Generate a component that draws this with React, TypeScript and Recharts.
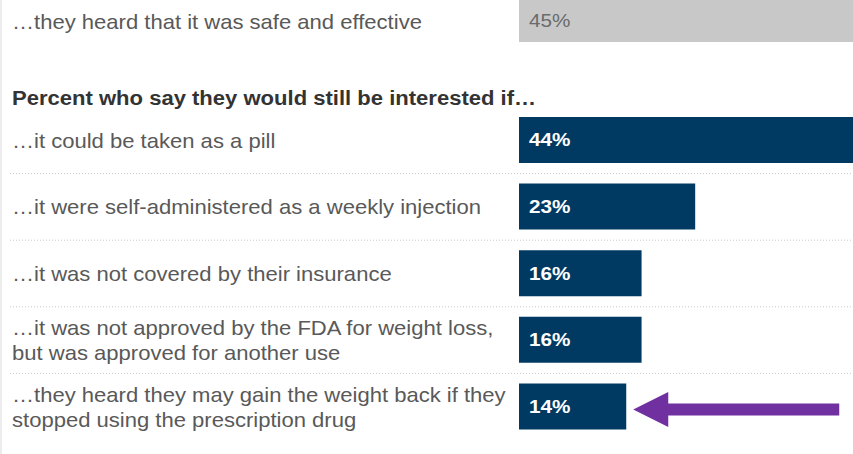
import { BarChart, Bar, XAxis, YAxis, LabelList } from 'recharts';

// top row (grey reference bar)
const refLabels = ['…they heard that it was safe and effective'];
const refValues = [45];

// "still interested if…" rows
const labels = [
  '…it could be taken as a pill',
  '…it were self-administered as a weekly injection',
  '…it was not covered by their insurance',
  '…it was not approved by the FDA for weight loss,\nbut was approved for another use',
  '…they heard they may gain the weight back if they\nstopped using the prescription drug',
];
const values = [44, 23, 16, 16, 14];
const highlightIndex = 4;

const HEADER = 'Percent who say they would still be interested if…';

const FONT = "'Liberation Sans', Arial, Helvetica, sans-serif";
const NAVY = '#003a63';
const GREY_BAR = '#c8c8c8';
const W = 853;
const AXIS_W = 519;
const DOMAIN: [number, number] = [0, 43.6];

const refData = refLabels.map((name, i) => ({ name, value: refValues[i] }));
const data = labels.map((name, i) => ({ name, value: values[i] }));

const MAIN_TOP = 107;
const MAIN_H = 333;
const BAND = MAIN_H / data.length;

// the source image is slightly stretched sideways, so text is scaled on x
function LabelTick({ y, payload, index, withLines }: any) {
  const lines: string[] = String(payload.value).split('\n');
  const lh = 25;
  const y0 = y - ((lines.length - 1) * lh) / 2;
  return (
    <g>
      <text transform="translate(12,0) scale(1.05,1)" fontSize={21} fill="#595959" fontFamily={FONT}>
        {lines.map((l, i) => (
          <tspan key={i} x={0} y={y0 + i * lh} dy="0.36em">{l}</tspan>
        ))}
      </text>
      {withLines && index < data.length - 1 && (
        <line x1={10} x2={W} y1={y + BAND / 2} y2={y + BAND / 2} stroke="#c8c8c8" strokeDasharray="1 2" />
      )}
    </g>
  );
}

function ValueLabel({ x, y, width, height, value, index }: any) {
  const cy = y + height / 2;
  const tip = x + width + 7;
  return (
    <g>
      <text
        transform={`translate(${x + 10},${cy}) scale(1.15,1)`}
        dy="0.36em"
        fontSize={18}
        fontWeight="bold"
        fill="#fff"
        fontFamily={FONT}
      >
        {value}%
      </text>
      {index === highlightIndex && (
        <polygon
          fill="#7030a0"
          points={`${tip},${cy + 3} ${tip + 35},${cy - 14.5} ${tip + 35},${cy - 3} ${tip + 206},${cy - 3} ${tip + 206},${cy + 9} ${tip + 35},${cy + 9} ${tip + 35},${cy + 20.5}`}
        />
      )}
    </g>
  );
}

function RefLabel({ x, y, height, value }: any) {
  return (
    <text
      transform={`translate(${x + 10},${y + height / 2}) scale(1.15,1)`}
      dy="0.36em"
      fontSize={18}
      fill="#6b6b6b"
      fontFamily={FONT}
    >
      {value}%
    </text>
  );
}

export default function App() {
  return (
    <div style={{ position: 'absolute', left: 0, top: 0, width: W, height: 454, background: '#fff', overflow: 'hidden' }}>
      <div style={{ position: 'absolute', left: 0, top: 0, width: 2, height: 454, background: '#ececec' }} />
      <div style={{ position: 'absolute', left: 0, top: 0 }}>
        <BarChart width={W} height={42} data={refData} layout="vertical" margin={{ top: 0, right: 0, bottom: 0, left: 0 }} barCategoryGap={0}>
          <XAxis type="number" domain={DOMAIN} allowDataOverflow hide />
          <YAxis type="category" dataKey="name" width={AXIS_W} axisLine={false} tickLine={false} tick={<LabelTick withLines={false} />} />
          <Bar dataKey="value" fill={GREY_BAR} isAnimationActive={false}>
            <LabelList dataKey="value" content={<RefLabel />} />
          </Bar>
        </BarChart>
      </div>
      <div
        style={{
          position: 'absolute', left: 12, top: 87, fontFamily: FONT, fontSize: 19.5, fontWeight: 'bold', color: '#333',
          whiteSpace: 'nowrap', transform: 'scaleX(1.13)', transformOrigin: 'left top',
        }}
      >
        {HEADER}
      </div>
      <div style={{ position: 'absolute', left: 0, top: MAIN_TOP }}>
        <BarChart width={W} height={MAIN_H} data={data} layout="vertical" margin={{ top: 0, right: 0, bottom: 0, left: 0 }} barSize={46}>
          <XAxis type="number" domain={DOMAIN} allowDataOverflow hide />
          <YAxis type="category" dataKey="name" width={AXIS_W} axisLine={false} tickLine={false} interval={0} tick={<LabelTick withLines />} />
          <Bar dataKey="value" fill={NAVY} isAnimationActive={false}>
            <LabelList dataKey="value" content={<ValueLabel />} />
          </Bar>
        </BarChart>
      </div>
    </div>
  );
}
